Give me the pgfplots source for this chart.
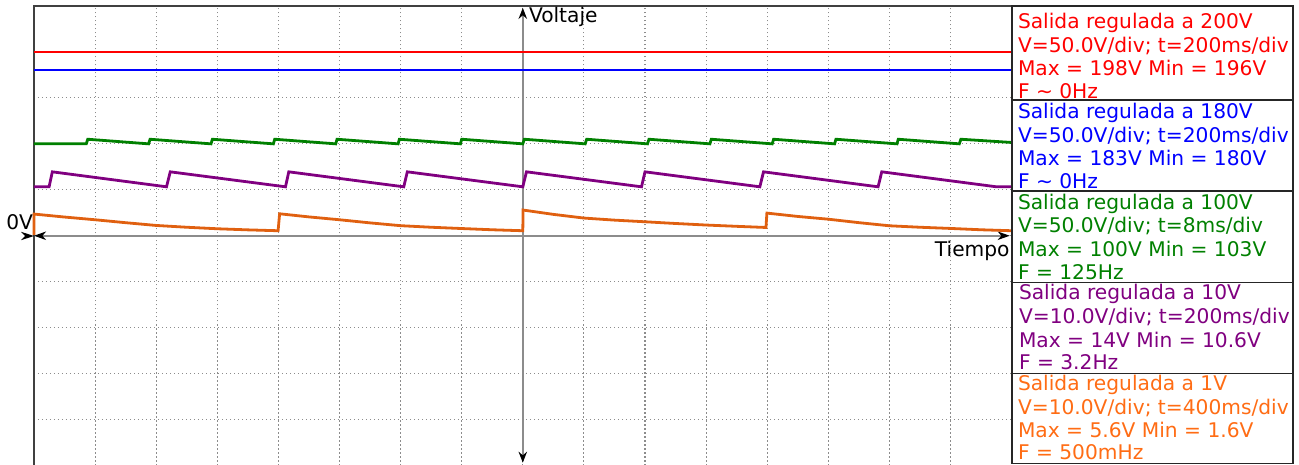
\documentclass[border=0pt]{standalone}
\usepackage{pgfplots}
\pgfplotsset{compat=1.18}
\usepackage{fontspec}
\setmainfont{DejaVu Sans}
\usetikzlibrary{arrows.meta}
\definecolor{cred}{RGB}{255,0,0}
\definecolor{cblue}{RGB}{0,0,255}
\definecolor{cgreen}{RGB}{0,128,0}
\definecolor{cpurple}{RGB}{128,0,128}
\definecolor{corange}{RGB}{224,96,16}
\definecolor{torange}{RGB}{255,108,20}
\definecolor{axgray}{RGB}{140,140,140}
\begin{document}
\begin{tikzpicture}[every node/.style={font=\fontsize{10.1pt}{12pt}\selectfont, inner sep=0pt, outer sep=0pt}]
\useasboundingbox (0,0) rectangle (649.5pt,232.5pt);
\begin{axis}[at={(17pt,-0.25pt)}, anchor=south west, scale only axis,
  width=488.8pt, height=229.75pt,
  xmin=-8, xmax=8, ymin=-5, ymax=5,
  axis line style={draw=none},
  xtick={-7,...,7}, ytick={-4,...,4},
  xticklabels={}, yticklabels={},
  major tick length=0pt,
  grid=major,
  grid style={black!45, line width=0.55pt, dash pattern=on 0.55pt off 1.45pt},
  clip=false]
% axes
\draw[axgray, line width=1pt, {Stealth[black,length=6pt,width=4.2pt,inset=1.8pt]}-{Stealth[black,length=6pt,width=4.2pt,inset=1.8pt]}] (axis cs:-8,0) -- (axis cs:7.97,0);
\draw[axgray, line width=1pt, {Stealth[black,length=5.5pt,width=4.2pt,inset=1.8pt]}-{Stealth[black,length=5.5pt,width=4.2pt,inset=1.8pt]}] (axis cs:0,-4.94) -- (axis cs:0,4.96);
% frame
\draw[black!75, line width=0.75pt] (axis cs:-8,-5.1) -- (axis cs:-8,5) -- (axis cs:8,5);
% red
\addplot[cred, line width=1.4pt] coordinates {(-8,4.0) (8,4.0)};
% blue
\addplot[cblue, line width=1.4pt] coordinates {(-8,3.605) (8,3.605)};
% green
\addplot[cgreen, line width=1.4pt] coordinates {
(-8,2.0) (-7.144,2.0) (-7.12,2.10)
(-6.124,2.0) (-6.10,2.10)
(-5.103,2.0) (-5.08,2.10)
(-4.082,2.0) (-4.06,2.10)
(-3.062,2.0) (-3.04,2.10)
(-2.041,2.0) (-2.02,2.10)
(-1.021,2.0) (-1.00,2.10)
(0,2.0) (0.025,2.10)
(1.021,2.0) (1.045,2.10)
(2.041,2.0) (2.065,2.10)
(3.062,2.0) (3.085,2.10)
(4.082,2.0) (4.105,2.10)
(5.103,2.0) (5.125,2.10)
(6.124,2.0) (6.145,2.10)
(7.144,2.0) (7.17,2.10)
(8,2.03)};
% purple
\addplot[cpurple, line width=1.4pt] coordinates {
(-8,1.065) (-7.753,1.065) (-7.70,1.391)
(-5.831,1.065) (-5.77,1.391)
(-3.884,1.065) (-3.83,1.391)
(-1.948,1.065) (-1.89,1.391)
(0.0,1.065) (0.06,1.391)
(1.943,1.065) (2.00,1.391)
(3.879,1.065) (3.94,1.391)
(5.815,1.065) (5.875,1.391)
(7.753,1.065) (8,1.065)};
% orange
\addplot[corange, line width=1.4pt] coordinates {
(-8,0.02) (-8,0.472) (-7.5,0.407) (-7,0.348) (-6.5,0.284) (-6,0.224) (-5.5,0.185) (-5,0.152) (-4.5,0.128) (-4.005,0.109)
(-3.98,0.478) (-3.5,0.41) (-3,0.348) (-2.5,0.28) (-2,0.219) (-1.5,0.185) (-1,0.157) (-0.5,0.13) (0,0.109)
(0.005,0.559) (0.5,0.465) (1,0.385) (1.5,0.34) (2,0.304) (2.5,0.267) (3,0.233) (3.5,0.205) (3.98,0.180)
(3.995,0.493) (4.5,0.42) (5,0.36) (5.5,0.285) (6,0.217) (6.5,0.185) (7,0.159) (7.5,0.13) (8,0.109)};
\end{axis}
% 0V marker
\fill[black] (17pt,114.5pt) -- (10.5pt,116.6pt) -- (12.6pt,114.5pt) -- (10.5pt,112.4pt) -- cycle;
\node[anchor=base east] at (16.5pt,117.5pt) {0V};
\node[anchor=base west] at (264.5pt,221.15pt) {Voltaje};
\node[anchor=base east] at (504.75pt,104.15pt) {Tiempo};
% legend texts
\begin{scope}[every node/.append style={anchor=base west}]
\node[text=cred] at (509pt,218.35pt) {Salida regulada a 200V};
\node[text=cred] at (509pt,206.15pt) {V=50.0V/div; t=200ms/div};
\node[text=cred] at (509pt,194.5pt) {Max = 198V Min = 196V};
\node[text=cred] at (509pt,183pt) {F \textasciitilde{} 0Hz};
\node[text=cblue] at (509pt,173pt) {Salida regulada a 180V};
\node[text=cblue] at (509pt,161.15pt) {V=50.0V/div; t=200ms/div};
\node[text=cblue] at (509pt,149.65pt) {Max = 183V Min = 180V};
\node[text=cblue] at (509pt,138pt) {F \textasciitilde{} 0Hz};
\node[text=cgreen] at (509pt,127.75pt) {Salida regulada a 100V};
\node[text=cgreen] at (509pt,116pt) {V=50.0V/div; t=8ms/div};
\node[text=cgreen] at (509pt,104.25pt) {Max = 100V Min = 103V};
\node[text=cgreen] at (509pt,92.75pt) {F = 125Hz};
\node[text=cpurple] at (509.5pt,82.5pt) {Salida regulada a 10V};
\node[text=cpurple] at (509.5pt,70.85pt) {V=10.0V/div; t=200ms/div};
\node[text=cpurple] at (509.5pt,58.85pt) {Max = 14V Min = 10.6V};
\node[text=cpurple] at (509.5pt,47.5pt) {F = 3.2Hz};
\node[text=torange] at (509pt,37pt) {Salida regulada a 1V};
\node[text=torange] at (509pt,25.35pt) {V=10.0V/div; t=400ms/div};
\node[text=torange] at (509pt,13.85pt) {Max = 5.6V Min = 1.6V};
\node[text=torange] at (509pt,2.5pt) {F = 500mHz};
\end{scope}
% legend boxes
\draw[black!85, line width=0.75pt] (506pt,229.5pt) rectangle (646.5pt,0.85pt);
\draw[black!85, line width=0.75pt] (506pt,182.5pt) -- (646.5pt,182.5pt);
\draw[black!85, line width=0.75pt] (506pt,137pt) -- (646.5pt,137pt);
\draw[black!85, line width=0.75pt] (506pt,91.35pt) -- (646.5pt,91.35pt);
\draw[black!85, line width=0.75pt] (506pt,45.85pt) -- (646.5pt,45.85pt);
\end{tikzpicture}
\end{document}
